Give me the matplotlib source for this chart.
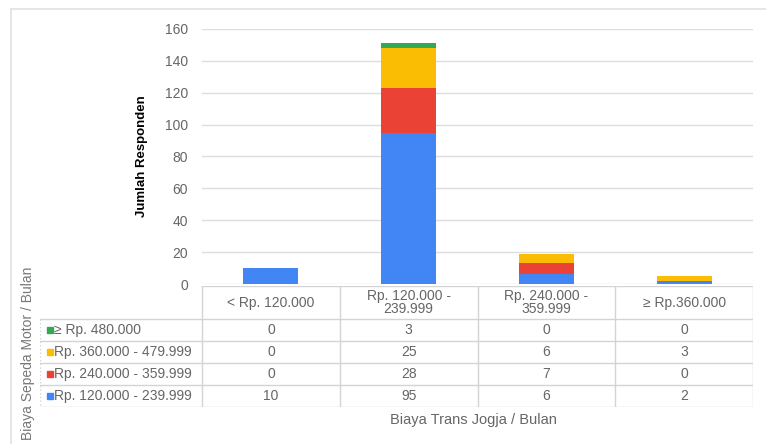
import matplotlib
matplotlib.use('Agg')
from matplotlib import pyplot as plt
import numpy as np

plt.rcParams['font.family'] = ['Liberation Sans', 'DejaVu Sans']

# categories on the x axis (Trans Jogja cost)
categories = ['< Rp. 120.000', 'Rp. 120.000 -\n239.999', 'Rp. 240.000 -\n359.999', '\u2265 Rp.360.000']

# stacked series (motorbike cost), bottom to top
series_names = ['Rp. 120.000 - 239.999', 'Rp. 240.000 - 359.999',
                'Rp. 360.000 - 479.999', '\u2265 Rp. 480.000']
blue_vals = [10, 95, 6, 2]
red_vals = [0, 28, 7, 0]
yellow_vals = [0, 25, 6, 3]
green_vals = [0, 3, 0, 0]
series_vals = [blue_vals, red_vals, yellow_vals, green_vals]
colors = ['#4285F4', '#EA4335', '#FBBC04', '#34A853']

W, H = 766, 444
txt = '#666666'
fig = plt.figure(figsize=(W / 100, H / 100), dpi=100)

# main bar axes
ax = fig.add_axes([202 / W, 1 - 284 / H, 551 / W, 255 / H])
x = np.arange(len(categories))
bottom = np.zeros(len(categories))
for vals, c in zip(series_vals, colors):
    ax.bar(x, vals, width=0.4, bottom=bottom, color=c, zorder=3)
    bottom += np.array(vals)

ax.set_xlim(-0.5, len(categories) - 0.5)
ax.set_ylim(0, 160)
ax.set_yticks(range(0, 161, 20))
ax.set_xticks([])
ax.tick_params(axis='y', length=0, pad=10, labelsize=10, labelcolor=txt)
ax.grid(axis='y', color='#dddddd', linewidth=1, zorder=0)
for s in ax.spines.values():
    s.set_visible(False)
ax.set_ylabel('Jumlah Responden', fontsize=9.5, fontweight='bold', labelpad=12)

# data table under the bars
col_px = 551 / len(categories)
lab_w = (202 - 40) / col_px
head = 33 / 22
n = len(series_names)
tax = fig.add_axes([40 / W, 1 - 407 / H, 713 / W, 121 / H])
tax.set_xlim(-0.5 - lab_w, len(categories) - 0.5)
tax.set_ylim(head + n, 0)
tax.axis('off')
gc = '#d4d4d4'
x0 = -0.5 - lab_w
# grid of the table
tax.plot([-0.5, 3.5], [0, 0], color=gc, lw=1)
for r in range(n + 1):
    tax.plot([x0, 3.5], [head + r, head + r], color=gc, lw=1)
for k in range(len(categories) + 1):
    tax.plot([k - 0.5, k - 0.5], [0, head + n], color=gc, lw=1)
tax.plot([x0, x0], [head, head + n], color=gc, lw=1, ls=':')

for k, cat in enumerate(categories):
    tax.text(k, head / 2, cat, ha='center', va='center', fontsize=10,
             color=txt, linespacing=0.95)

for r, idx in enumerate(range(n - 1, -1, -1)):
    yc = head + r + 0.5
    tax.plot(x0 + 10 / col_px, yc, marker='s', ms=4, color=colors[idx], ls='none')
    tax.text(x0 + 14 / col_px, yc, series_names[idx], ha='left', va='center',
             fontsize=10, color=txt)
    for k, v in enumerate(series_vals[idx]):
        tax.text(k, yc, str(v), ha='center', va='center', fontsize=10, color=txt)

fig.text(473 / W, 1 - 420 / H, 'Biaya Trans Jogja / Bulan', ha='center', va='center',
         fontsize=10.5, color=txt)
fig.text(28 / W, 1 - 353 / H, 'Biaya Sepeda Motor / Bulan', ha='center', va='center',
         rotation=90, fontsize=10, color='#777777')

# light frame at top and left
fig.add_artist(plt.Line2D([11 / W, 1], [1 - 9 / H, 1 - 9 / H], color='#e2e2e2', lw=1.2))
fig.add_artist(plt.Line2D([11 / W, 11 / W], [0, 1 - 9 / H], color='#e2e2e2', lw=1.2))

fig.savefig('out.png', dpi=100, facecolor='white')
